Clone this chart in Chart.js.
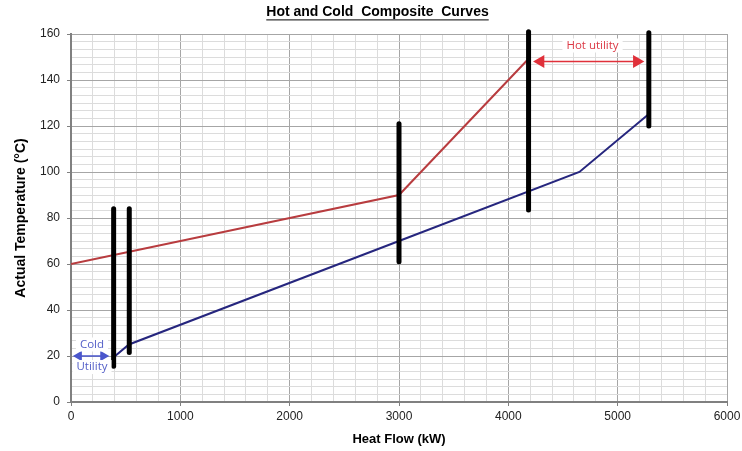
<!DOCTYPE html>
<html>
<head>
<meta charset="utf-8">
<title>Hot and Cold Composite Curves</title>
<script src="https://cdn.jsdelivr.net/npm/chart.js@4/dist/chart.umd.min.js"></script>
<style>
  html, body { margin: 0; padding: 0; background: #fff; }
</style>
</head>
<body>
<canvas id="composite-chart" width="742" height="451"></canvas>
<script>
// Hot composite curve (kW, °C)
const hotFlow = [0, 3000, 4170];
const hotTemp = [60, 90, 148.5];

// Cold composite curve
const coldFlow = [390, 530, 3000, 4650, 5280];
const coldTemp = [19.5, 25, 70, 100, 125];

// Black marker bars
const barFlow = [390, 533, 3000, 4185, 5285];
const barLow = [15.5, 21.5, 61, 83.5, 120];
const barHigh = [84, 84, 121, 161, 160.5];

// Utility arrows
const hotArrowFlow = [4295, 5175];
const hotArrowTemp = 148;
const coldArrowFlow = [72, 295];
const coldArrowTemp = 20;

// Annotation texts
const noteText = ['Hot utility', 'Cold', 'Utility'];
const noteFlow = [4770, 192, 192];
const noteTemp = [155, 25, 15.2];

// Axis tick labels
const xTickLabels = [0, 1000, 2000, 3000, 4000, 5000, 6000];
const yTickLabels = [0, 20, 40, 60, 80, 100, 120, 140, 160];
const xMinorSteps = 5;
const yMinorSteps = 6;

function withMinor(majors, n) {
    let out = [];
    for (let i = 0; i < majors.length - 1; i++) {
        for (let j = 0; j < n; j++) {
            out.push({ value: majors[i] + (majors[i + 1] - majors[i]) * j / n, main: j === 0 });
        }
    }
    out.push({ value: majors[majors.length - 1], main: true });
    return out;
}

function pairs(xs, ys) {
    return xs.map((x, i) => ({ x: x, y: ys[i] }));
}

const hotColor = '#b83c3f';
const coldColor = '#26267e';
const noteColors = ['#dc3a46', '#5560c8', '#5560c8'];

let datasets = [];

// Marker bars on top
barFlow.forEach(function(x, i) {
    datasets.push({
        data: [{ x: x, y: barLow[i] }, { x: x, y: barHigh[i] }],
        borderColor: '#000',
        borderWidth: 5,
        borderCapStyle: 'round',
        pointRadius: 0,
        clip: false,
        order: 0
    });
});

datasets.push({
    label: 'Hot composite',
    data: pairs(hotFlow, hotTemp),
    borderColor: hotColor,
    borderWidth: 2,
    pointRadius: 0,
    order: 2
});

datasets.push({
    label: 'Cold composite',
    data: pairs(coldFlow, coldTemp),
    borderColor: coldColor,
    borderWidth: 2,
    pointRadius: 0,
    order: 2
});

datasets.push({
    data: coldArrowFlow.map(x => ({ x: x, y: coldArrowTemp })),
    borderColor: '#4a56cc',
    borderWidth: 1.5,
    pointStyle: 'triangle',
    pointRadius: 6,
    pointRotation: [-90, 90],
    pointBackgroundColor: '#4a56cc',
    pointBorderWidth: 0,
    order: 1
});

datasets.push({
    data: hotArrowFlow.map(x => ({ x: x, y: hotArrowTemp })),
    borderColor: '#e0303a',
    borderWidth: 1.5,
    pointStyle: 'triangle',
    pointRadius: 7.5,
    pointRotation: [-90, 90],
    pointBackgroundColor: '#e0303a',
    pointBorderWidth: 0,
    order: 1
});

// Text notes with white boxes, placed through the scales
const notesPlugin = {
    id: 'notes',
    afterDatasetsDraw: function(chart) {
        const ctx = chart.ctx;
        ctx.save();
        ctx.font = '11.5px "Open Sans"';
        ctx.textAlign = 'center';
        ctx.textBaseline = 'middle';
        noteText.forEach(function(t, i) {
            const px = chart.scales.x.getPixelForValue(noteFlow[i]);
            const py = chart.scales.y.getPixelForValue(noteTemp[i]);
            const w = ctx.measureText(t).width;
            ctx.fillStyle = '#fff';
            ctx.fillRect(px - w / 2 - 4, py - 7, w + 8, 14);
            ctx.fillStyle = noteColors[i];
            ctx.fillText(t, px, py);
        });
        ctx.restore();
    }
};

// Underline the title
const underlinePlugin = {
    id: 'underline',
    afterDraw: function(chart) {
        const tb = chart.titleBlock;
        const opts = chart.options.plugins.title;
        const ctx = chart.ctx;
        ctx.save();
        ctx.font = 'bold 14px "Liberation Sans"';
        const w = ctx.measureText(opts.text).width;
        const cx = (tb.left + tb.right) / 2;
        const y = tb.top + opts.padding.top + 16.8 / 2 + 7.5;
        ctx.strokeStyle = '#000';
        ctx.lineWidth = 1;
        ctx.beginPath();
        ctx.moveTo(cx - w / 2, y);
        ctx.lineTo(cx + w / 2, y);
        ctx.stroke();
        ctx.restore();
    }
};

const gridColor = ctx => (ctx.tick && ctx.tick.main ? '#a6a6a6' : '#dcdcdc');
const tickColor = ctx => (ctx.tick && ctx.tick.main ? '#808080' : 'rgba(0,0,0,0)');

new Chart(document.getElementById('composite-chart'), {
    type: 'line',
    data: { datasets: datasets },
    plugins: [notesPlugin, underlinePlugin],
    options: {
        responsive: false,
        animation: false,
        devicePixelRatio: 1,
        layout: { padding: { left: 13, right: 0, top: 0, bottom: 0 } },
        plugins: {
            legend: { display: false },
            tooltip: { enabled: false },
            title: {
                display: true,
                text: 'Hot and Cold  Composite  Curves',
                color: '#000',
                font: { family: '"Liberation Sans"', size: 14, weight: 'bold' },
                padding: { top: 4, bottom: 13.2 }
            }
        },
        scales: {
            x: {
                type: 'linear',
                min: 0,
                max: 6000,
                afterBuildTicks: function(scale) {
                    scale.ticks = withMinor(xTickLabels, xMinorSteps);
                },
                afterFit: function(scale) {
                    scale.paddingRight = 15;
                },
                ticks: {
                    autoSkip: false,
                    maxRotation: 0,
                    padding: 3,
                    color: '#222',
                    font: { family: '"Liberation Sans"', size: 12 },
                    callback: function(value, index, ticks) {
                        return ticks[index].main ? String(value) : '';
                    }
                },
                grid: { color: gridColor, tickColor: tickColor, tickLength: 4, lineWidth: 1 },
                border: { color: '#808080', width: 2 },
                title: {
                    display: true,
                    text: 'Heat Flow (kW)',
                    color: '#000',
                    font: { family: '"Liberation Sans"', size: 13, weight: 'bold' },
                    padding: { top: 5, bottom: 4 }
                }
            },
            y: {
                type: 'linear',
                min: 0,
                max: 160,
                afterBuildTicks: function(scale) {
                    scale.ticks = withMinor(yTickLabels, yMinorSteps);
                },
                afterFit: function(scale) {
                    scale.width = 58;
                },
                ticks: {
                    autoSkip: false,
                    padding: 7,
                    color: '#222',
                    font: { family: '"Liberation Sans"', size: 12 },
                    callback: function(value, index, ticks) {
                        return ticks[index].main ? String(Math.round(value)) : '';
                    }
                },
                grid: { color: gridColor, tickColor: tickColor, tickLength: 4, lineWidth: 1 },
                border: { color: '#808080', width: 2 },
                title: {
                    display: true,
                    text: 'Actual Temperature (°C)',
                    color: '#000',
                    font: { family: '"Liberation Sans"', size: 14, weight: 'bold' },
                    padding: { top: 0, bottom: 0 }
                }
            }
        }
    }
});
</script>
</body>
</html>
